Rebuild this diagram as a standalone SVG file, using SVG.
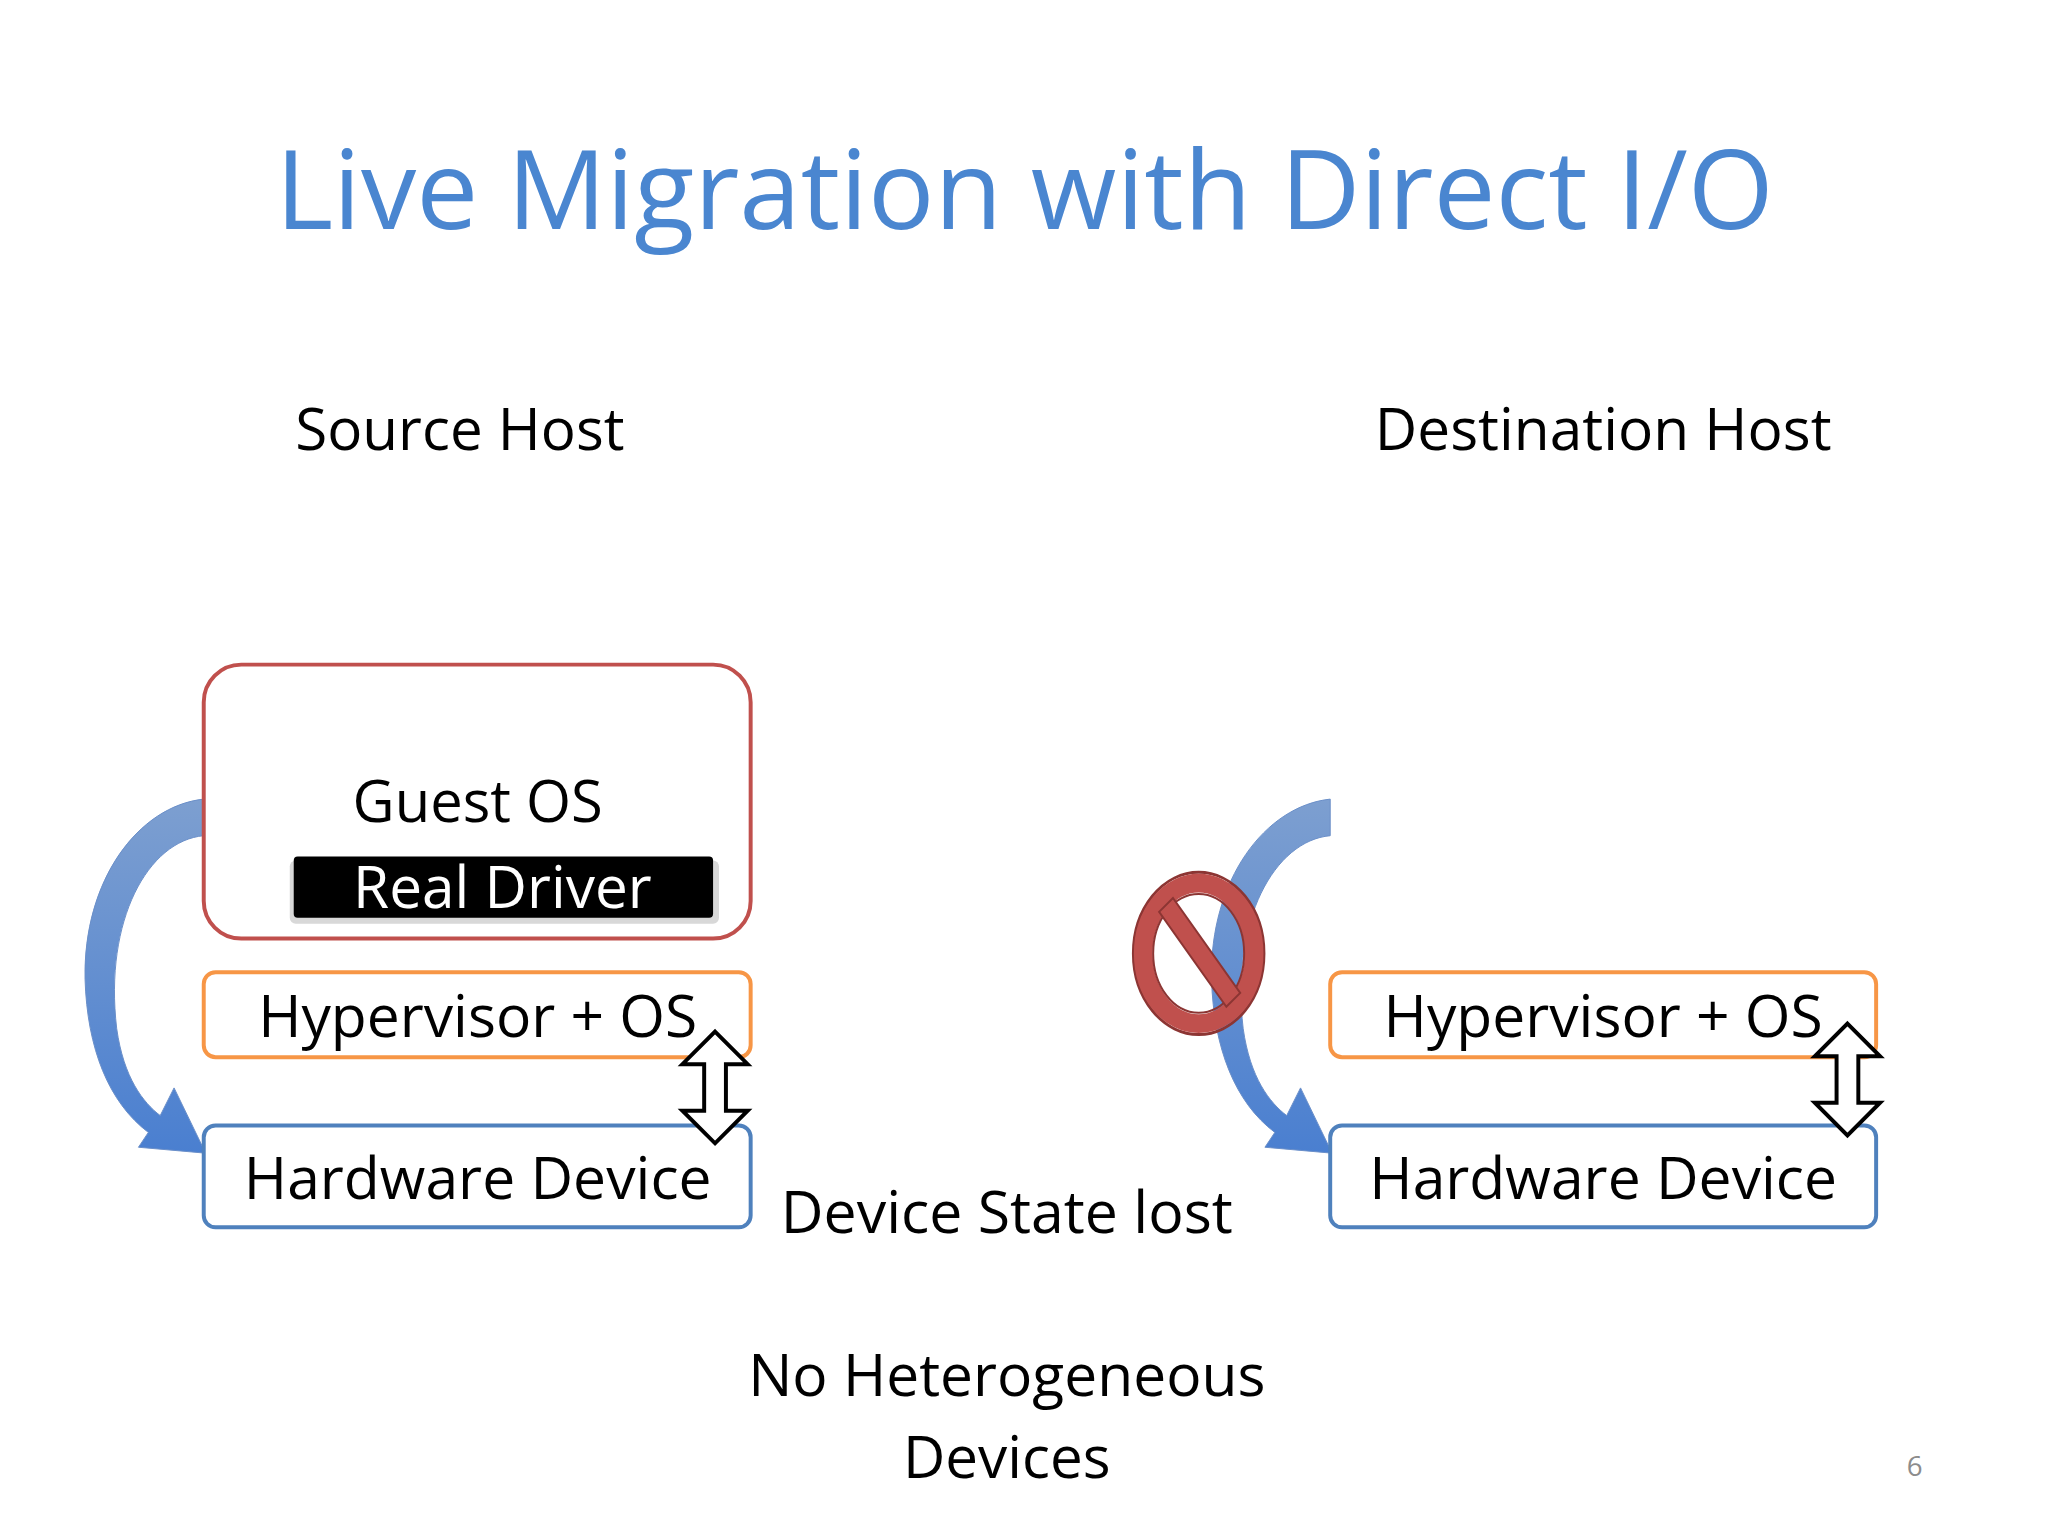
<svg xmlns="http://www.w3.org/2000/svg" width="2048" height="1536" viewBox="0 0 2048 1536">
<defs>
<style>
.t{font-family:"Open Sans","DejaVu Sans",sans-serif;fill:#000;font-size:60px;text-anchor:middle}
.box{fill:#fff;stroke-width:4}
.dbl{fill:#fff;stroke:#000;stroke-width:4;stroke-linejoin:miter}
</style>
<linearGradient id="g" x1="0" y1="0" x2="0" y2="1">
<stop offset="0" stop-color="#7d9fd0"/><stop offset="1" stop-color="#4a7fd0"/>
</linearGradient>
<path id="curve" d="M206,808 L206,845 C150,850 105,930 118,1040 C125,1090 145,1115 162,1128 L176,1100 L208,1166 L140,1160 L150,1145 C110,1115 88,1060 86,990 C84,890 140,815 206,808 Z" fill="url(#g)" stroke="#6a8fc8" stroke-width="1"/>
</defs>
<rect width="2048" height="1536" fill="#fff"/>
<g transform="scale(0.989)">
<text x="1036" y="232" class="t" style="fill:#4a86d0;font-size:112px" textLength="1515" lengthAdjust="spacingAndGlyphs">Live Migration with Direct I/O</text>
<g id="labels">
<text x="465" y="455" class="t" textLength="333" lengthAdjust="spacingAndGlyphs">Source Host</text>
<text x="1621" y="455" class="t" textLength="462" lengthAdjust="spacingAndGlyphs">Destination Host</text>
<text x="1018" y="1247" class="t" textLength="457" lengthAdjust="spacingAndGlyphs">Device State lost</text>
<text x="1018" y="1412" class="t" textLength="523" lengthAdjust="spacingAndGlyphs">No Heterogeneous</text>
<text x="1018" y="1494" class="t" textLength="210" lengthAdjust="spacingAndGlyphs">Devices</text>
<text x="1936" y="1492" class="t" style="font-size:28px;fill:#8c8c8c">6</text>
</g>
<g id="connectors">
<use href="#curve"/>
<use href="#curve" transform="translate(1139,0)"/>
</g>
<g id="guest-os">
<rect x="206" y="672" width="553" height="277" rx="38" class="box" stroke="#c0504d"/>
<text x="483" y="831" class="t" textLength="253" lengthAdjust="spacingAndGlyphs">Guest OS</text>
</g>
<g id="real-driver">
<rect x="293" y="870" width="434" height="64" rx="6" fill="#d8d8d8"/>
<rect x="297" y="866" width="424" height="62" rx="4" fill="#000"/>
<text x="508" y="918" class="t" style="fill:#fff" textLength="302" lengthAdjust="spacingAndGlyphs">Real Driver</text>
</g>
<g id="src-hyp">
<rect x="206" y="983" width="553" height="86" rx="12" class="box" stroke="#f79646"/>
<text x="483" y="1049" class="t" textLength="444" lengthAdjust="spacingAndGlyphs">Hypervisor + OS</text>
</g>
<g id="src-hw">
<rect x="206" y="1138" width="553" height="103" rx="12" class="box" stroke="#4f81bd"/>
<text x="483" y="1212" class="t" textLength="473" lengthAdjust="spacingAndGlyphs">Hardware Device</text>
</g>
<g id="dst-hyp">
<rect x="1345" y="983" width="552" height="86" rx="12" class="box" stroke="#f79646"/>
<text x="1621" y="1049" class="t" textLength="444" lengthAdjust="spacingAndGlyphs">Hypervisor + OS</text>
</g>
<g id="dst-hw">
<rect x="1345" y="1138" width="552" height="103" rx="12" class="box" stroke="#4f81bd"/>
<text x="1621" y="1212" class="t" textLength="473" lengthAdjust="spacingAndGlyphs">Hardware Device</text>
</g>
<g id="src-dbl">
<path class="dbl" d="M723,1043 L756,1076 L734,1076 L734,1123 L756,1123 L723,1156 L690,1123 L712,1123 L712,1076 L690,1076 Z"/>
</g>
<g id="dst-dbl">
<path class="dbl" transform="translate(1145,-8)" d="M723,1043 L756,1076 L734,1076 L734,1123 L756,1123 L723,1156 L690,1123 L712,1123 L712,1076 L690,1076 Z"/>
</g>
<g id="no-sign">
<ellipse cx="1212" cy="964" rx="66" ry="82" fill="none" stroke="#8c3533" stroke-width="3"/>
<ellipse cx="1212" cy="964" rx="56" ry="71" fill="none" stroke="#c0504d" stroke-width="19"/>
<ellipse cx="1212" cy="964" rx="46" ry="60" fill="none" stroke="#8c3533" stroke-width="2"/>
<path d="M1172,922 L1186,908 L1254,1004 L1240,1018 Z" fill="#c0504d" stroke="#8c3533" stroke-width="2"/>
</g>
</g>
</svg>
